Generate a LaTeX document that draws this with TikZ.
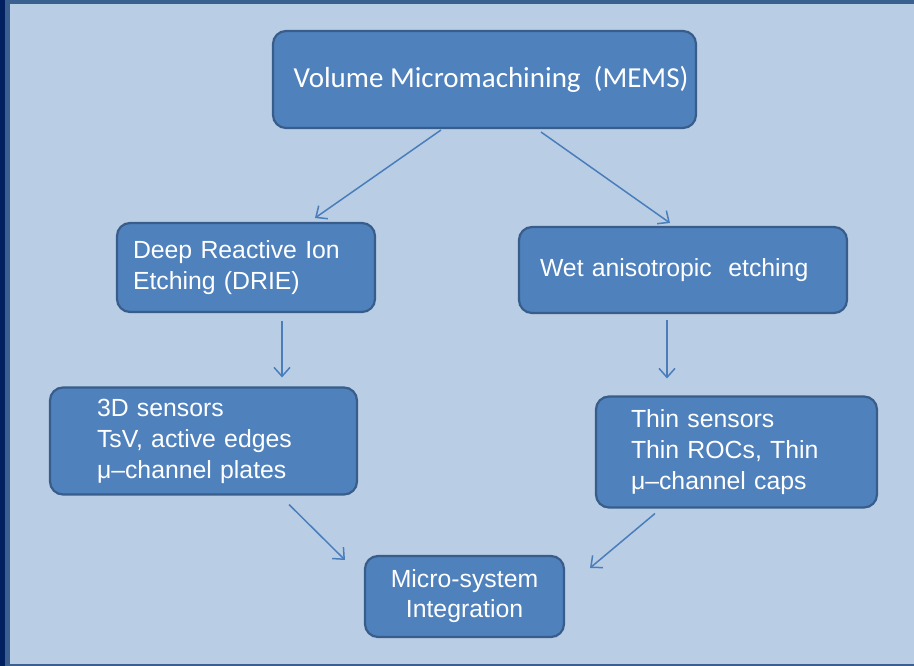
\documentclass[tikz,border=0pt]{standalone}
\usepackage{fontspec}
\setmainfont{Liberation Sans}
\newfontfamily\calibrilike{Carlito}
\usetikzlibrary{arrows.meta,calc}

\definecolor{slidebg}{HTML}{B9CDE5}
\definecolor{slideedge}{HTML}{3B5F8E}
\definecolor{slidenavy}{HTML}{002060}
\definecolor{boxfill}{HTML}{4F81BD}
\definecolor{boxline}{HTML}{385D8A}
\definecolor{arrowcol}{HTML}{4A7EBB}

\tikzset{
  procbox/.style={draw=boxline, line width=2.2pt, fill=boxfill, rounded corners=13pt,
    text=white, font=\fontsize{24.8}{31}\selectfont, inner ysep=0pt, outer sep=0pt},
  flow/.style={draw=arrowcol, line width=1.5pt, -{Straight Barb[length=9pt,width=16pt,line width=1.5pt]}}
}

\begin{document}
\begin{tikzpicture}[x=1pt, y=-1pt]
  % slide background and frame
  \path[use as bounding box] (0,0) rectangle (914,666);
  \fill[slidebg] (0,0) rectangle (914,666);
  \fill[slideedge] (0,0) rectangle (914,4);
  \fill[slideedge] (0,663.5) rectangle (914,666);
  \fill[slideedge] (5,0) rectangle (10,666);
  \fill[slidenavy] (0,0) rectangle (5,666);

  % process boxes
  \node[procbox, font=\calibrilike\fontsize{29}{34}\selectfont,
        minimum width=423pt, minimum height=97pt] (top) at (484.5,79.5)
        {\hspace*{13pt}\raisebox{-3pt}{Volume Micromachining\ \ (MEMS)}};
  \node[procbox, align=left, text width=226pt, inner xsep=16pt, minimum height=89pt]
        (drie) at (246,267.5) {Deep Reactive Ion\\Etching (DRIE)};
  \node[procbox, align=left, text width=286pt, inner xsep=21pt, minimum height=86pt]
        (wet) at (683,270) {Wet anisotropic\ \ etching};
  \node[procbox, align=left, text width=213pt, inner xsep=47pt, minimum height=107pt]
        (sens) at (203.5,441) {3D sensors\\TsV, active edges\\μ–channel plates};
  \node[procbox, align=left, text width=211pt, inner xsep=35pt, minimum height=111pt]
        (thin) at (736.5,452) {Thin sensors\\Thin ROCs, Thin\\μ–channel caps};
  \node[procbox, align=center, text width=179pt, inner xsep=10pt, minimum height=81pt,
        font=\fontsize{24.8}{30}\selectfont]
        (micro) at (464.5,596.5) {Micro-system\\Integration};

  % connectors
  \draw[flow] ($(top.south)+(-43.5,2)$) -- ($(drie.north)+(69,-5)$);
  \draw[flow] ($(top.south)+(56.5,4)$) -- ($(wet.north)+(-13,-4)$);
  \draw[flow] ($(drie.south)+(36,9)$) -- ($(sens.north)+(78.5,-10)$);
  \draw[flow] ($(wet.south)+(-16,7)$) -- ($(thin.north)+(-69.5,-18)$);
  \draw[flow] ($(sens.south)+(85.5,10)$) -- ($(micro.west)+(-20,-36.5)$);
  \draw[flow] ($(thin.south)+(-81.5,6)$) -- ($(micro.east)+(26,-28.5)$);
\end{tikzpicture}
\end{document}
